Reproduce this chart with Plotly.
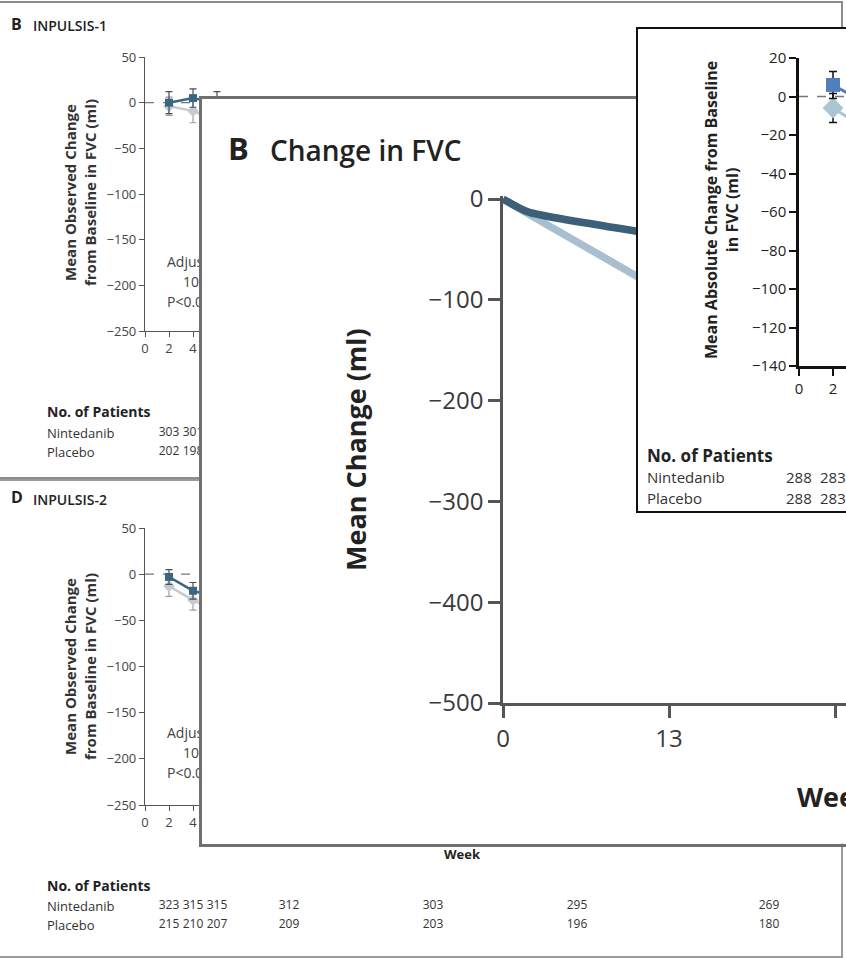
import plotly.graph_objects as go

W, H = 846, 959
FONT = "Open Sans"

# ---------------- data ----------------
trial_ticks = [0, 2, 4, 6, 12, 24, 36, 52]
trial_weeks = [2, 4, 6, 12, 24, 36, 52]
trial_yticks = [50, 0, -50, -100, -150, -200, -250]

inp1_nintedanib = [0, 5, -1, -16, -45, -70, -95]
inp1_nintedanib_err = [12, 10, 13, 13, 14, 15, 16]
inp1_placebo = [-4, -9, -20, -45, -100, -150, -205]
inp1_placebo_err = [10, 13, 14, 15, 17, 18, 20]
inp1_count_weeks = [2, 4]
inp1_n_nintedanib = [303, 301]
inp1_n_placebo = [202, 198]

inp2_nintedanib = [-3, -18, -25, -40, -62, -80, -95]
inp2_nintedanib_err = [8, 9, 10, 11, 13, 14, 15]
inp2_placebo = [-13, -28, -40, -70, -120, -165, -205]
inp2_placebo_err = [11, 11, 12, 14, 16, 18, 20]
inp2_count_weeks = [2, 4, 6, 12, 24, 36, 52]
inp2_n_nintedanib = [323, 315, 315, 312, 303, 295, 269]
inp2_n_placebo = [215, 210, 207, 209, 203, 196, 180]

fvc_weeks = [0, 2, 13, 26]
fvc_nintedanib = [0, -13, -37, -66]
fvc_placebo = [0, -15, -95, -190]
fvc_xticks = [0, 13, 26, 39, 52]
fvc_yticks = [0, -100, -200, -300, -400, -500]

abs_weeks = [2, 4]
abs_nintedanib = [6, -4]
abs_nintedanib_err = [7, 7]
abs_placebo = [-6, -17]
abs_placebo_err = [7.5, 7.5]
abs_count_weeks = [0, 2]
abs_n_nintedanib = [288, 283]
abs_n_placebo = [288, 283]
abs_xticks = [0, 2, 4, 6, 8]
abs_yticks = [20, 0, -20, -40, -60, -80, -100, -120, -140]

# ---------------- helpers (layout geometry, pixels) ----------------
def fx(p):
    return p / W

def fy(p):
    return 1 - p / H

P = {
    "i1": dict(x0=145, x1=781, y0=57, y1=331, xr=[0, 53], yr=[-250, 50]),
    "i1n": dict(x0=145, x1=781, y0=420, y1=464, xr=[0, 53], yr=[0, 1]),
    "i2": dict(x0=145, x1=781, y0=528, y1=805, xr=[0, 53], yr=[-250, 50]),
    "i2n": dict(x0=145, x1=781, y0=893, y1=937, xr=[0, 53], yr=[0, 1]),
    "big": dict(x0=503, x1=846, y0=196, y1=703, xr=[0, 26.86], yr=[-500, 3]),
    "ins": dict(x0=799, x1=846, y0=58, y1=366, xr=[0, 2.765], yr=[-140, 20]),
}

def xv(k, px):
    g = P[k]
    return g["xr"][0] + (px - g["x0"]) / (g["x1"] - g["x0"]) * (g["xr"][1] - g["xr"][0])

def yv(k, py):
    g = P[k]
    return g["yr"][1] - (py - g["y0"]) / (g["y1"] - g["y0"]) * (g["yr"][1] - g["yr"][0])

NIN_DARK = "#3a6681"
PLA_GRAY = "#c4cacf"
BIG_DARK = "#3d6079"
BIG_LIGHT = "#a9bfcf"
INS_BLUE = "#4f7fbf"
INS_LIGHT = "#a9c6d3"

fig = go.Figure()

# ---------------- INPULSIS panels ----------------
def trial_traces(k, kn, xa, ya, xna, yna, nin, nin_err, pla, pla_err, cw, n_nin, n_pla):
    fig.add_trace(go.Scatter(x=[0, 53], y=[0, 0], mode="lines", xaxis=xa, yaxis=ya,
                             line=dict(color="#777", width=1.2, dash="dash"), hoverinfo="skip"))
    fig.add_trace(go.Scatter(x=trial_weeks, y=pla, mode="lines+markers", xaxis=xa, yaxis=ya,
                             line=dict(color=PLA_GRAY, width=2.5),
                             marker=dict(symbol="diamond", size=9, color=PLA_GRAY),
                             error_y=dict(type="data", array=pla_err, color="#9aa1a7", thickness=1.2, width=3.5)))
    fig.add_trace(go.Scatter(x=trial_weeks, y=nin, mode="lines+markers", xaxis=xa, yaxis=ya,
                             line=dict(color=NIN_DARK, width=2.5),
                             marker=dict(symbol="square", size=8, color=NIN_DARK),
                             error_y=dict(type="data", array=nin_err, color="#4a4f55", thickness=1.2, width=3.5)))
    top = P[k]["y0"]
    fig.add_trace(go.Scatter(x=[xv(k, 167), xv(k, 183), xv(k, 167)],
                             y=[yv(k, top + 206), yv(k, top + 226), yv(k, top + 246)],
                             mode="text", xaxis=xa, yaxis=ya, textposition="middle right",
                             text=["Adjusted difference", "10", "P<0.001"],
                             textfont=dict(family=FONT, size=14, color="#444"), hoverinfo="skip"))
    ntop = P[kn]["y0"]
    fig.add_trace(go.Scatter(x=cw, y=[yv(kn, ntop + 13)] * len(cw), mode="text", xaxis=xna, yaxis=yna,
                             text=[str(v) for v in n_nin],
                             textfont=dict(family=FONT, size=12, color="#333"), hoverinfo="skip"))
    fig.add_trace(go.Scatter(x=cw, y=[yv(kn, ntop + 32)] * len(cw), mode="text", xaxis=xna, yaxis=yna,
                             text=[str(v) for v in n_pla],
                             textfont=dict(family=FONT, size=12, color="#333"), hoverinfo="skip"))

trial_traces("i1", "i1n", "x", "y", "x2", "y2", inp1_nintedanib, inp1_nintedanib_err,
             inp1_placebo, inp1_placebo_err, inp1_count_weeks, inp1_n_nintedanib, inp1_n_placebo)
trial_traces("i2", "i2n", "x3", "y3", "x4", "y4", inp2_nintedanib, inp2_nintedanib_err,
             inp2_placebo, inp2_placebo_err, inp2_count_weeks, inp2_n_nintedanib, inp2_n_placebo)

# ---------------- big panel frame (x5y5) ----------------
fig.add_trace(go.Scatter(x=[], y=[], xaxis="x5", yaxis="y5", hoverinfo="skip"))

# ---------------- big panel plot (x6y6) ----------------
fig.add_trace(go.Scatter(x=fvc_weeks, y=fvc_placebo, mode="lines", xaxis="x6", yaxis="y6",
                         line=dict(color=BIG_LIGHT, width=7.5), hoverinfo="skip"))
fig.add_trace(go.Scatter(x=fvc_weeks, y=fvc_nintedanib, mode="lines", xaxis="x6", yaxis="y6",
                         line=dict(color=BIG_DARK, width=7.5, shape="spline", smoothing=0.6),
                         hoverinfo="skip"))

# ---------------- inset frame (x7y7) ----------------
fig.add_trace(go.Scatter(x=[], y=[], xaxis="x7", yaxis="y7", hoverinfo="skip"))

# ---------------- inset plot (x8y8) ----------------
fig.add_trace(go.Scatter(x=[0, 10], y=[0, 0], mode="lines", xaxis="x8", yaxis="y8",
                         line=dict(color="#777", width=1.5, dash="dash"), hoverinfo="skip"))
fig.add_trace(go.Scatter(x=abs_weeks, y=abs_placebo, mode="lines+markers", xaxis="x8", yaxis="y8",
                         line=dict(color=INS_LIGHT, width=3),
                         marker=dict(symbol="diamond", size=16, color=INS_LIGHT),
                         error_y=dict(type="data", array=abs_placebo_err, color="#111", thickness=1.5, width=4)))
fig.add_trace(go.Scatter(x=abs_weeks, y=abs_nintedanib, mode="lines+markers", xaxis="x8", yaxis="y8",
                         line=dict(color=INS_BLUE, width=3),
                         marker=dict(symbol="square", size=14, color=INS_BLUE),
                         error_y=dict(type="data", array=abs_nintedanib_err, color="#111", thickness=1.5, width=4)))

# ---------------- axes ----------------
def data_axes(k, xticks, yticks, lc, lw, tl, tw, fs, fc):
    g = P[k]
    common = dict(ticks="outside", ticklen=tl, tickwidth=tw, tickcolor=lc, showline=True,
                  linecolor=lc, linewidth=lw, showgrid=False, zeroline=False, fixedrange=True,
                  automargin=False, tickfont=dict(family=FONT, size=fs, color=fc))
    xa = dict(domain=[fx(g["x0"]), fx(g["x1"])], range=g["xr"], tickvals=xticks, **common)
    ya = dict(domain=[fy(g["y1"]), fy(g["y0"])], range=g["yr"], tickvals=yticks, **common)
    return xa, ya

def blank_axes(k):
    g = P[k]
    common = dict(showgrid=False, zeroline=False, showticklabels=False, ticks="", showline=False,
                  fixedrange=True, automargin=False)
    return (dict(domain=[fx(g["x0"]), fx(g["x1"])], range=g["xr"], **common),
            dict(domain=[fy(g["y1"]), fy(g["y0"])], range=g["yr"], **common))

def frame_axes(x0, x1, y0, y1, color, width):
    common = dict(range=[0, 1], showgrid=False, zeroline=False, showticklabels=False, ticks="",
                  showline=True, linecolor=color, linewidth=width, fixedrange=True, automargin=False)
    xa = dict(domain=[fx(x0), fx(x1)], mirror=True, **common)
    ya = dict(domain=[fy(y1), fy(y0)], mirror=False, **common)
    return xa, ya

axes = [
    data_axes("i1", trial_ticks, trial_yticks, "#555", 1.2, 5, 1.2, 13, "#444"),
    blank_axes("i1n"),
    data_axes("i2", trial_ticks, trial_yticks, "#555", 1.2, 5, 1.2, 13, "#444"),
    blank_axes("i2n"),
    frame_axes(201.5, 846, 98.5, 843.5, "#707070", 3),
    data_axes("big", fvc_xticks, fvc_yticks, "#555", 2.5, 12, 2.5, 24, "#3a3a3a"),
    frame_axes(638, 846, 29, 511, "#111", 2),
    data_axes("ins", abs_xticks, abs_yticks, "#111", 2.5, 7, 2, 15, "#222"),
]

layout_axes = {}
for i, (xa, ya) in enumerate(axes, start=1):
    sx = "" if i == 1 else str(i)
    xa["anchor"] = "y" + sx
    ya["anchor"] = "x" + sx
    layout_axes["xaxis" + sx] = xa
    layout_axes["yaxis" + sx] = ya

# ---------------- text ----------------
def ann(text, px, py, size, xanchor="left", color="#333", angle=0):
    return dict(text=text, x=fx(px), y=fy(py), xref="paper", yref="paper", showarrow=False,
                xanchor=xanchor, yanchor="middle", textangle=angle,
                font=dict(family=FONT, size=size, color=color))

annotations = [
    ann("<b>B</b>", 9, 24, 16, color="#222"),
    ann("<span style='font-weight:600'>INPULSIS-1</span>", 31, 26, 14, color="#222"),
    ann("<b>Mean Observed Change<br>from Baseline in FVC (ml)</b>", 80, 193, 15, xanchor="center", angle=-90),
    ann("<b>No. of Patients</b>", 45, 411, 14, color="#222"),
    ann("Nintedanib", 45, 433, 13),
    ann("Placebo", 45, 452, 13),

    ann("<b>D</b>", 9, 497, 16, color="#222"),
    ann("<span style='font-weight:600'>INPULSIS-2</span>", 31, 499, 14, color="#222"),
    ann("<b>Mean Observed Change<br>from Baseline in FVC (ml)</b>", 80, 667, 15, xanchor="center", angle=-90),
    ann("<b>No. of Patients</b>", 45, 885, 14, color="#222"),
    ann("Nintedanib", 45, 906, 13),
    ann("Placebo", 45, 925, 13),
    ann("<b>Week</b>", 463, 854, 13, xanchor="center", color="#222"),

    ann("<b>B</b>", 226, 148, 31, color="#222"),
    ann("<span style='font-weight:600'>Change in FVC</span>", 268, 150, 28, color="#222"),
    ann("<b>Mean Change (ml)</b>", 355, 450, 27, xanchor="center", angle=-90, color="#222"),
    ann("<b>Week</b>", 795, 796, 27, color="#222"),

    ann("<b>Mean Absolute Change from Baseline<br>in FVC (ml)</b>", 722, 210, 16, xanchor="center",
        angle=-90, color="#222"),
    ann("<b>No. of Patients</b>", 645, 455, 17, color="#222"),
    ann("Nintedanib", 645, 477, 15),
    ann("Placebo", 645, 498, 15),
]

# inset patient counts, placed on the inset's week axis
for w, n1, n2 in zip(abs_count_weeks, abs_n_nintedanib, abs_n_placebo):
    for n, py in ((n1, 477), (n2, 498)):
        annotations.append(dict(text=str(n), x=w, y=fy(py), xref="x8", yref="paper", showarrow=False,
                                xanchor="center", yanchor="middle",
                                font=dict(family=FONT, size=15, color="#333")))

# background panel frames (drawn beneath every subplot)
shapes = [
    dict(type="rect", xref="paper", yref="paper", x0=fx(-5), x1=fx(842), y0=fy(2), y1=fy(478),
         line=dict(color="#8c8c8c", width=2), layer="below"),
    dict(type="rect", xref="paper", yref="paper", x0=fx(-5), x1=fx(842), y0=fy(480), y1=fy(957),
         line=dict(color="#9a9a9a", width=2), layer="below"),
]

fig.update_layout(
    width=W, height=H, margin=dict(l=0, r=0, t=0, b=0, pad=0, autoexpand=False),
    paper_bgcolor="white", plot_bgcolor="white", showlegend=False,
    annotations=annotations, shapes=shapes, font=dict(family=FONT),
    **layout_axes,
)

fig.write_html("out.html", config={"displayModeBar": False})
